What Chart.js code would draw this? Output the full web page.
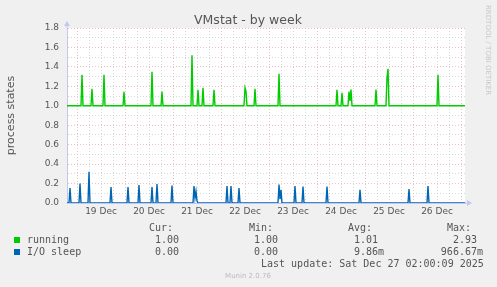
<!DOCTYPE html>
<html>
<head>
<meta charset="utf-8">
<script src="https://cdn.jsdelivr.net/npm/chart.js@4/dist/chart.umd.min.js"></script>
<style>
  html, body { margin: 0; padding: 0; background: #f0f0f0; }
  #wrap { position: relative; width: 497px; height: 287px; overflow: hidden; color: #555; }
  #wrap canvas { position: absolute; left: 0; top: 0; }
  .t { position: absolute; white-space: pre; font-family: 'DejaVu Sans Mono', monospace; font-size: 10px; line-height: 12px; }
  .r { text-align: right; }
  .sq { position: absolute; width: 6px; height: 6px; }
  #title { position: absolute; left: 0; width: 496px; top: 12px; text-align: center;
           font-family: 'DejaVu Sans', sans-serif; font-size: 12.5px; line-height: 15px; color: #555; }
  #side { position: absolute; left: 484px; top: 5px; writing-mode: vertical-rl;
          font-family: 'DejaVu Sans', sans-serif; font-size: 7px; line-height: 7px; color: #c8c8c8; }
  #munin { position: absolute; left: 0; width: 496px; top: 272px; text-align: center;
           font-family: 'DejaVu Sans', sans-serif; font-size: 7px; line-height: 9px; color: #bbb; }
</style>
</head>
<body>
<div id="wrap">
  <canvas id="vmstat-week" width="497" height="287"></canvas>
  <div id="title">VMstat - by week</div>
  <div id="side">RRDTOOL / TOBI OETIKER</div>

  <div class="t" style="left:149px;top:222px">Cur:</div>
  <div class="t" style="left:249px;top:222px">Min:</div>
  <div class="t" style="left:348px;top:222px">Avg:</div>
  <div class="t" style="left:447px;top:222px">Max:</div>

  <div class="sq" style="left:14px;top:237px;background:#00cc00"></div>
  <div class="t" style="left:27px;top:234px">running</div>
  <div class="t r" style="right:312px;top:234px">1.00 </div>
  <div class="t r" style="right:213px;top:234px">1.00 </div>
  <div class="t r" style="right:113px;top:234px">1.01 </div>
  <div class="t r" style="right:14px;top:234px">2.93 </div>

  <div class="sq" style="left:14px;top:249px;background:#0066b3"></div>
  <div class="t" style="left:27px;top:246px">I/O sleep</div>
  <div class="t r" style="right:312px;top:246px">0.00 </div>
  <div class="t r" style="right:213px;top:246px">0.00 </div>
  <div class="t r" style="right:113px;top:246px">9.86m</div>
  <div class="t r" style="right:14px;top:246px">966.67m</div>

  <div class="t" style="left:261px;top:257.5px">Last update: Sat Dec 27 02:00:09 2025</div>
  <div id="munin">Munin 2.0.76</div>
</div>
<script>
// hours counted from 18 Dec 00:00, one sample every 30 min

const dayLabels = ['19 Dec', '20 Dec', '21 Dec', '22 Dec', '23 Dec', '24 Dec', '25 Dec', '26 Dec'];

const runningTime = [19,
  26, 26.5, 27, 31, 31.5, 32, 37, 37.5, 38, 47, 47.5, 48,
  61, 61.5, 62, 66, 66.5, 67, 81, 81.5, 82, 84, 84.5, 85,
  86.5, 87, 87.5, 92, 92.5, 93, 107.5, 108, 108.5, 109, 112.5, 113, 113.5,
  124.5, 125, 125.5, 153.5, 154, 154.5, 156, 156.5, 157,
  159.5, 160, 160.5, 161, 161.5, 173, 173.5, 174,
  178.5, 179, 179.5, 180, 204, 204.5, 205, 218];
const runningValue = [1,
  1, 1.32, 1, 1, 1.175, 1, 1, 1.32, 1, 1, 1.144, 1,
  1, 1.35, 1, 1, 1.147, 1, 1, 1.52, 1, 1, 1.165, 1,
  1, 1.185, 1, 1, 1.165, 1, 1, 1.185, 1.15, 1, 1, 1.175, 1,
  1, 1.33, 1, 1, 1.165, 1, 1, 1.134, 1,
  1, 1.147, 1.05, 1.168, 1, 1, 1.168, 1,
  1, 1.29, 1.38, 1, 1, 1.32, 1, 1];

const ioTime = [19,
  20, 20.5, 21, 25, 25.5, 26, 29.5, 30, 30.5, 40.5, 41, 41.5,
  49, 49.5, 50, 54.5, 55, 55.5, 61, 61.5, 62, 63.5, 64, 64.5,
  71, 71.5, 72, 82, 82.5, 83, 83.5, 84, 84.5,
  98.5, 99, 99.5, 100.5, 101, 101.5, 104.5, 105, 105.5,
  124.5, 125, 125.5, 126, 126.5, 132.5, 133, 133.5, 136.5, 137, 137.5,
  148.5, 149, 149.5, 165, 165.5, 166, 189.5, 190, 190.5, 199, 199.5, 200, 218];
const ioValue = [0,
  0, 0.154, 0, 0, 0.2, 0, 0, 0.32, 0, 0, 0.165, 0,
  0, 0.165, 0, 0, 0.185, 0, 0, 0.165, 0, 0, 0.195, 0,
  0, 0.18, 0, 0, 0.175, 0.05, 0.12, 0.02, 0,
  0, 0.175, 0, 0, 0.175, 0, 0, 0.155, 0,
  0, 0.19, 0.04, 0.135, 0, 0, 0.175, 0, 0, 0.17, 0,
  0, 0.17, 0, 0, 0.135, 0, 0, 0.144, 0, 0, 0.175, 0, 0];

const toPoints = (xs, ys) => xs.map((x, i) => ({x: x, y: ys[i]}));

const majorGrid = 'rgba(230,150,150,0.6)';
const minorGrid = 'rgba(190,190,190,0.6)';
const axisColor = '#c4c6ee';

// white plot area, axis arrows
const muninFrame = {
  id: 'muninFrame',
  beforeDraw(chart) {
    const a = chart.chartArea, ctx = chart.ctx;
    ctx.save();
    ctx.fillStyle = '#fff';
    ctx.fillRect(a.left, a.top, a.right - a.left, a.bottom - a.top);
    ctx.restore();
  },
  afterDraw(chart) {
    const a = chart.chartArea, ctx = chart.ctx;
    ctx.save();
    ctx.strokeStyle = axisColor;
    ctx.fillStyle = axisColor;
    ctx.lineWidth = 1;
    ctx.beginPath();
    ctx.moveTo(a.left, a.top); ctx.lineTo(a.left, a.top - 4);
    ctx.moveTo(a.right, a.bottom); ctx.lineTo(a.right + 4, a.bottom);
    ctx.stroke();
    ctx.beginPath();
    ctx.moveTo(a.left - 3, a.top - 2); ctx.lineTo(a.left + 3, a.top - 2); ctx.lineTo(a.left, a.top - 7);
    ctx.closePath(); ctx.fill();
    ctx.beginPath();
    ctx.moveTo(a.right + 2, a.bottom - 3); ctx.lineTo(a.right + 2, a.bottom + 3); ctx.lineTo(a.right + 7, a.bottom);
    ctx.closePath(); ctx.fill();
    ctx.restore();
  }
};

const weekConfig = {
  type: 'line',
  data: {
    datasets: [{
      label: 'running',
      data: toPoints(runningTime, runningValue),
      borderColor: '#00cc00',
      borderWidth: 1.4,
      pointRadius: 0,
      tension: 0,
      fill: false
    }, {
      label: 'I/O sleep',
      data: toPoints(ioTime, ioValue),
      borderColor: '#0066b3',
      borderWidth: 1.4,
      pointRadius: 0,
      tension: 0,
      fill: false
    }]
  },
  options: {
    responsive: false,
    animation: false,
    events: [],
    layout: { padding: { top: 28, right: 32, left: 0, bottom: 0 } },
    plugins: {
      legend: { display: false },
      tooltip: { enabled: false },
      title: { display: false }
    },
    scales: {
      x: {
        type: 'linear',
        min: 19,
        max: 218,
        afterBuildTicks: (scale) => {
          const ticks = [];
          for (let v = 24; v <= 216; v += 6) ticks.push({value: v});
          scale.ticks = ticks;
        },
        afterFit: (scale) => {
          scale.height = 84;
          scale.paddingLeft = 0;
          scale.paddingRight = 0;
        },
        ticks: {
          autoSkip: false,
          maxRotation: 0,
          padding: 3,
          color: '#555',
          font: { family: 'DejaVu Sans', size: 9 },
          callback: (v) => (v % 24 === 12 ? dayLabels[(v - 36) / 24] : '')
        },
        grid: {
          drawTicks: false,
          lineWidth: 1,
          color: (ctx) => (ctx.tick && ctx.tick.value % 24 === 0 ? majorGrid : minorGrid)
        },
        border: { display: true, color: axisColor, width: 1, dash: [1, 2] }
      },
      y: {
        min: 0,
        max: 1.8,
        afterFit: (scale) => {
          scale.width = 67;
          scale.paddingTop = 0;
          scale.paddingBottom = 0;
        },
        ticks: {
          stepSize: 0.1,
          autoSkip: false,
          padding: 8,
          color: '#555',
          font: { family: 'DejaVu Sans', size: 9 },
          callback: (v) => (Math.round(v * 10) % 2 === 0 ? v.toFixed(1) : '')
        },
        grid: {
          drawTicks: false,
          lineWidth: 1,
          color: (ctx) => (ctx.tick && Math.round(ctx.tick.value * 10) % 2 === 0 ? majorGrid : minorGrid)
        },
        border: { display: true, color: axisColor, width: 1, dash: [1, 2] },
        title: {
          display: true,
          text: 'process states',
          color: '#555',
          font: { family: 'DejaVu Sans', size: 11 },
          padding: { top: 4.5, bottom: 0 }
        }
      }
    }
  },
  plugins: [muninFrame]
};

var weekChart = new Chart(document.getElementById('vmstat-week'), weekConfig);
</script>
</body>
</html>
